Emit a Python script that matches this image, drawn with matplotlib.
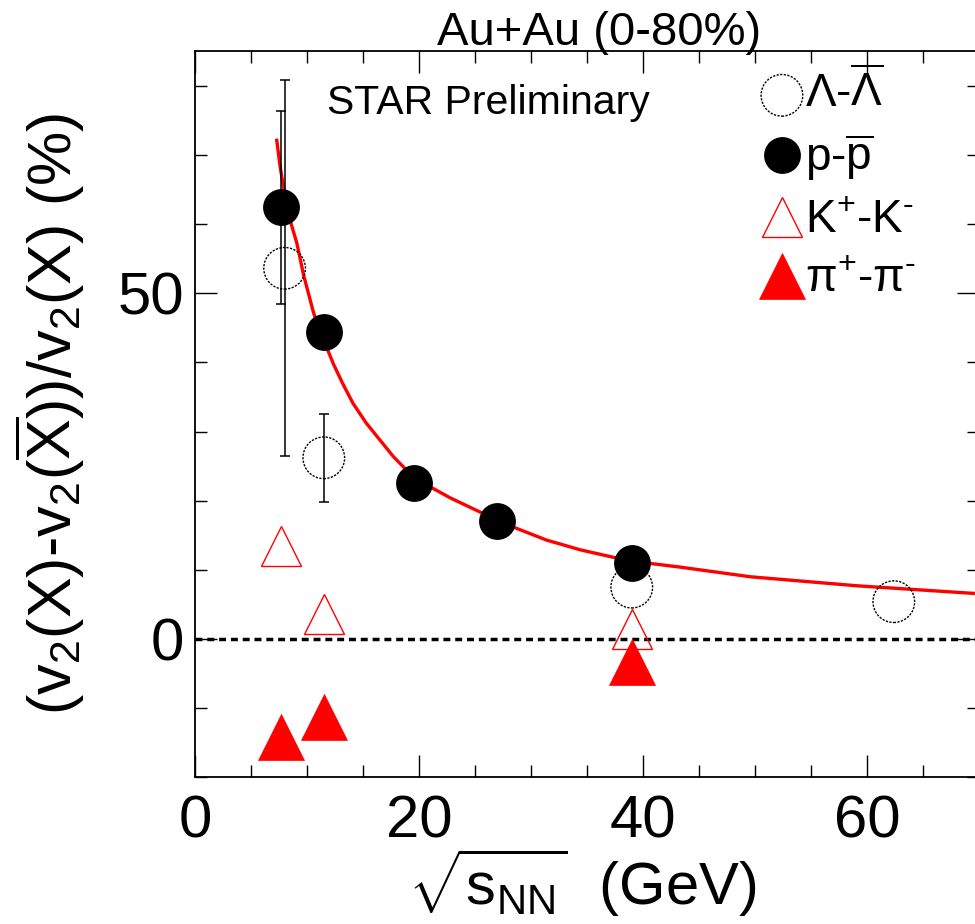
import matplotlib
matplotlib.use("Agg")
import matplotlib.pyplot as plt
from typing import List

plt.rcParams['font.family'] = ['Liberation Sans', 'DejaVu Sans']
plt.rcParams['mathtext.fontset'] = 'custom'
plt.rcParams['mathtext.rm'] = 'Liberation Sans'
plt.rcParams['mathtext.it'] = 'Liberation Sans:italic'
plt.rcParams['mathtext.sf'] = 'Liberation Sans'
plt.rcParams['mathtext.default'] = 'regular'

## values
lam_x : List[float] = [8.0, 11.5, 39.0, 62.4]
lam_y : List[float] = [53.6, 26.2, 7.5, 5.4]
lam_err : List[float] = [27.2, 6.4, 0.0, 0.0]

p_x : List[float] = [7.7, 11.5, 19.6, 27.0, 39.0]
p_y : List[float] = [62.4, 44.4, 22.5, 17.1, 11.0]
p_err : List[float] = [13.9, 0.0, 0.0, 0.0, 0.0]

k_x : List[float] = [7.7, 11.5, 39.0]
k_y : List[float] = [13.4, 3.6, 1.5]

pi_x : List[float] = [7.7, 11.5, 39.0]
pi_y : List[float] = [-14.2, -11.3, -3.3]

## fit curve, read point by point
fit_x : List[float] = [7.3, 7.6, 7.9, 8.5, 9.1, 9.7, 10.6, 11.5, 12.35, 13.2, 14.1, 15.3,
                       16.5, 17.7, 19.2, 21.0, 22.8, 25.4, 28.4, 31.4, 34.4, 37.4, 40.3,
                       43.3, 49.6, 59.1, 69.5]
fit_y : List[float] = [72.1, 68.3, 65.4, 60.5, 57.2, 52.6, 47.1, 43.2, 39.8, 36.9, 34.1, 31.2,
                       28.8, 26.4, 23.9, 22.0, 20.4, 18.4, 16.2, 14.3, 12.9, 11.8, 11.0,
                       10.4, 9.0, 7.7, 6.6]

x_ticks : List[int] = [0, 20, 40, 60]
y_ticks : List[int] = [0, 50]

fig = plt.figure(figsize=(9.75, 9.24), dpi=100)
ax = fig.add_axes([0.2, 0.1587, 0.804, 0.786])

ax.axhline(0, color='black', lw=2.5, ls=(0, (2, 1.4)), zorder=1)
ax.plot(fit_x, fit_y, color='red', lw=2.4, zorder=2)

## only the points that have a visible error bar
def with_err(xs, ys, es):
    keep = [i for i in range(len(xs)) if es[i] > 0]
    return [xs[i] for i in keep], [ys[i] for i in keep], [es[i] for i in keep]

for xs, ys, es in [with_err(p_x, p_y, p_err), with_err(lam_x, lam_y, lam_err)]:
    ax.errorbar(xs, ys, yerr=es, fmt='none', ecolor='black', elinewidth=1.1,
                capsize=3.6, capthick=1.1, zorder=3)

h_lam = ax.scatter(lam_x, lam_y, s=900, facecolors='none', edgecolors='black',
                   linewidths=1.0, linestyles=(0, (1.6, 1.0)), zorder=4)
h_p, = ax.plot(p_x, p_y, 'o', ms=25.5, color='black', zorder=5)
h_k, = ax.plot(k_x, k_y, '^', ms=29.5, mfc='none', mec='red', mew=1.0, zorder=4)
h_pi, = ax.plot(pi_x, pi_y, '^', ms=33, color='red', mec='red', mew=0.5, zorder=5)

ax.set_xlim(0, 70)
ax.set_ylim(-20, 85)
ax.set_xticks(x_ticks)
ax.set_xticks(range(0, 71, 5), minor=True)
ax.set_yticks(y_ticks)
ax.set_yticks(range(-20, 86, 10), minor=True)
ax.tick_params(which='both', direction='in', top=True, right=True, width=1.0, labelsize=43)
ax.tick_params(which='major', length=16)
ax.tick_params(which='minor', length=8.6)
ax.tick_params(axis='x', pad=12)
ax.tick_params(axis='y', pad=8)
for sp in ax.spines.values():
    sp.set_linewidth(1.3)

ax.set_xlabel(r'$\sqrt{s_{NN}}$  (GeV)', fontsize=43)
ax.xaxis.set_label_coords(0.494, -0.095)
ax.set_ylabel(r'(v$_2$(X)-v$_2$($\overline{X}$))/v$_2$(X) (%)', fontsize=44, labelpad=22)

fig.text(599 / 975, 1 - 45 / 924, 'Au+Au (0-80%)', fontsize=34, ha='center', va='baseline')
fig.text(327 / 975, 1 - 114 / 924, 'STAR Preliminary', fontsize=29.5, va='baseline')

leg = ax.legend([h_lam, h_p, h_k, h_pi],
                [r'Λ-$\overline{\mathrm{Λ}}$', r'p-$\overline{p}$', r'K$^{+}$-K$^{\text{-}}$', r'π$^{+}$-π$^{\text{-}}$'],
                loc='upper left', bbox_to_anchor=(759 / 975, 1 - 70 / 924), bbox_transform=fig.transFigure,
                frameon=False, fontsize=33, handlelength=1.0, handletextpad=0.0,
                borderpad=0, borderaxespad=0, labelspacing=0.34)

fig.savefig('out.png', dpi=100)
